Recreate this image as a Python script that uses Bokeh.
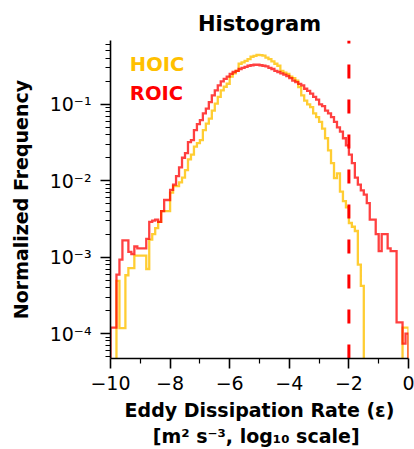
import numpy as np
from bokeh.plotting import figure
from bokeh.models import Range1d, FixedTicker, Label
from bokeh.embed import file_html
from bokeh.resources import INLINE

# ---------------- data ----------------
bin_edges = np.linspace(-10.0, 0.0, 101)   # 100 bins of 0.1

roic = [
    1.2e-4, 1.2e-4, 5.9e-4, 9.3e-4, 1.66e-3, 1.66e-3, 1.17e-3, 1.1e-3, 1.38e-3, 1.3e-3,
    1.3e-3, 1.3e-3, 1.74e-3, 2.9e-3, 3.0e-3, 3.1e-3, 2.9e-3, 4.0e-3, 5.6e-3, 5.6e-3,
    7.6e-3, 8.9e-3, 0.0115, 0.015, 0.020, 0.023, 0.032, 0.034, 0.046, 0.055,
    0.062, 0.076, 0.088, 0.107, 0.131, 0.152, 0.177, 0.20, 0.215, 0.23,
    0.25, 0.265, 0.275, 0.29, 0.30, 0.31, 0.32, 0.325, 0.33, 0.33,
    0.325, 0.32, 0.315, 0.30, 0.29, 0.275, 0.265, 0.255, 0.245, 0.235,
    0.22, 0.205, 0.195, 0.185, 0.177, 0.16, 0.15, 0.138, 0.125, 0.115,
    0.10, 0.095, 0.083, 0.076, 0.068, 0.059, 0.050, 0.044, 0.036, 0.029,
    0.022, 0.017, 0.011, 0.0089, 0.0075, 0.0066, 0.0051, 0.0031, 0.0031, 0.0020,
    0.0012, 0.0020, 0.0020, 0.0013, 0.0012, 0.0012, 1.4e-4, 1.4e-4, 7.4e-5, 1.0e-4,
]

hoic = [
    0.0, 0.0, 4.9e-4, 1.18e-4, 1.18e-4, 5.8e-4, 7.2e-4, 7.2e-4, 1.05e-3, 1.05e-3,
    1.05e-3, 1.05e-3, 7.0e-4, 1.7e-3, 2.0e-3, 2.4e-3, 2.9e-3, 4.0e-3, 4.0e-3, 4.0e-3,
    7.0e-3, 8.5e-3, 8.5e-3, 0.0095, 0.011, 0.0138, 0.019, 0.022, 0.028, 0.031,
    0.034, 0.046, 0.056, 0.065, 0.083, 0.102, 0.125, 0.152, 0.17, 0.186,
    0.23, 0.255, 0.275, 0.34, 0.355, 0.37, 0.39, 0.42, 0.43, 0.445,
    0.44, 0.435, 0.41, 0.39, 0.365, 0.34, 0.32, 0.275, 0.26, 0.25,
    0.23, 0.22, 0.205, 0.168, 0.131, 0.112, 0.10, 0.092, 0.076, 0.068,
    0.059, 0.048, 0.036, 0.025, 0.017, 0.0108, 0.0125, 0.0072, 0.0054, 0.0045,
    0.0028, 0.0025, 0.0022, 8.0e-4, 4.2e-4, 0.0, 0.0, 0.0, 0.0, 0.0,
    0.0, 0.0, 0.0, 0.0, 0.0, 0.0, 0.0, 0.0, 1.2e-4, 1.2e-4,
]

threshold = -2.0

x_ticks = [-10, -8, -6, -4, -2, 0]
x_tick_labels = ["\u221210", "\u22128", "\u22126", "\u22124", "\u22122", "0"]
x_minor_ticks = [-9, -7, -5, -3, -1]

y_ticks = [1e-4, 1e-3, 1e-2, 1e-1]
y_tick_labels = ["10\u207b\u2074", "10\u207b\u00b3", "10\u207b\u00b2", "10\u207b\u00b9"]
y_minor_ticks = [m * 10.0 ** k for k in range(-5, 0) for m in range(2, 10)]

Y_MIN, Y_MAX = 4.72e-5, 0.685
FLOOR = 1e-8

HOIC_COLOR = "#FFC000"
ROIC_COLOR = "#FF0000"
FONT = "DejaVu Sans"


def step_xy(edges, vals):
    v = np.where(np.asarray(vals) > 0, vals, FLOOR)
    xs = np.repeat(edges, 2)
    ys = np.concatenate([[FLOOR], np.repeat(v, 2), [FLOOR]])
    return xs, ys


# ---------------- figure ----------------
p = figure(width=414, height=449, output_backend="svg", toolbar_location=None,
           y_axis_type="log", x_range=Range1d(-10, 0), y_range=Range1d(Y_MIN, Y_MAX),
           min_border_left=110, min_border_right=6, min_border_top=40, min_border_bottom=90)

p.outline_line_color = None
p.xgrid.visible = False
p.ygrid.visible = False
p.background_fill_color = "white"
p.border_fill_color = "white"

hx, hy = step_xy(bin_edges, hoic)
rx, ry = step_xy(bin_edges, roic)
p.line(hx, hy, line_color=HOIC_COLOR, line_alpha=0.8, line_width=2.3, line_join="miter")
p.line(rx, ry, line_color=ROIC_COLOR, line_alpha=0.75, line_width=2.3, line_join="miter")

p.segment(x0=[threshold], y0=[Y_MIN], x1=[threshold], y1=[Y_MAX],
          line_color=ROIC_COLOR, line_width=3, line_dash="14 21")

# legend-like labels
p.add_layout(Label(x=-9.35, y=0.33, text="HOIC", text_color=HOIC_COLOR,
                   text_font=FONT, text_font_style="bold", text_font_size="19.5px",
                   text_baseline="alphabetic"))
p.add_layout(Label(x=-9.35, y=0.137, text="ROIC", text_color=ROIC_COLOR,
                   text_font=FONT, text_font_style="bold", text_font_size="19.5px",
                   text_baseline="alphabetic"))

# title
p.title.text = "Histogram"
p.title.align = "center"
p.title.text_font = FONT
p.title.text_font_size = "21px"
p.title.text_font_style = "bold"
p.title.text_color = "black"

# axes
xa = p.xaxis[0]
xa.ticker = FixedTicker(ticks=x_ticks, minor_ticks=x_minor_ticks)
xa.major_label_overrides = dict(zip(x_ticks, x_tick_labels))
xa.axis_label = "Eddy Dissipation Rate (\u03b5)\n[m\u00b2 s\u207b\u00b3,  log\u2081\u2080 scale]"

ya = p.yaxis[0]
ya.ticker = FixedTicker(ticks=y_ticks, minor_ticks=y_minor_ticks)
ya.major_label_overrides = dict(zip(y_ticks, y_tick_labels))
ya.axis_label = "Normalized Frequency"

for ax in (xa, ya):
    ax.axis_line_color = "black"
    ax.axis_line_width = 1.6
    ax.major_tick_line_color = "black"
    ax.minor_tick_line_color = "black"
    ax.major_tick_line_width = 1.6
    ax.minor_tick_line_width = 1.2
    ax.major_tick_out = 10
    ax.major_tick_in = 0
    ax.minor_tick_out = 5
    ax.minor_tick_in = 0
    ax.major_label_text_font = FONT
    ax.major_label_text_font_size = "19px"
    ax.major_label_text_color = "black"
    ax.axis_label_text_font = FONT
    ax.axis_label_text_font_size = "19px"
    ax.axis_label_text_font_style = "bold"
    ax.axis_label_text_color = "black"

xa.major_label_standoff = 7
xa.axis_label_standoff = 6
ya.major_label_standoff = 9
ya.axis_label_standoff = 15

open("out.html", "w").write(file_html(p, INLINE))
